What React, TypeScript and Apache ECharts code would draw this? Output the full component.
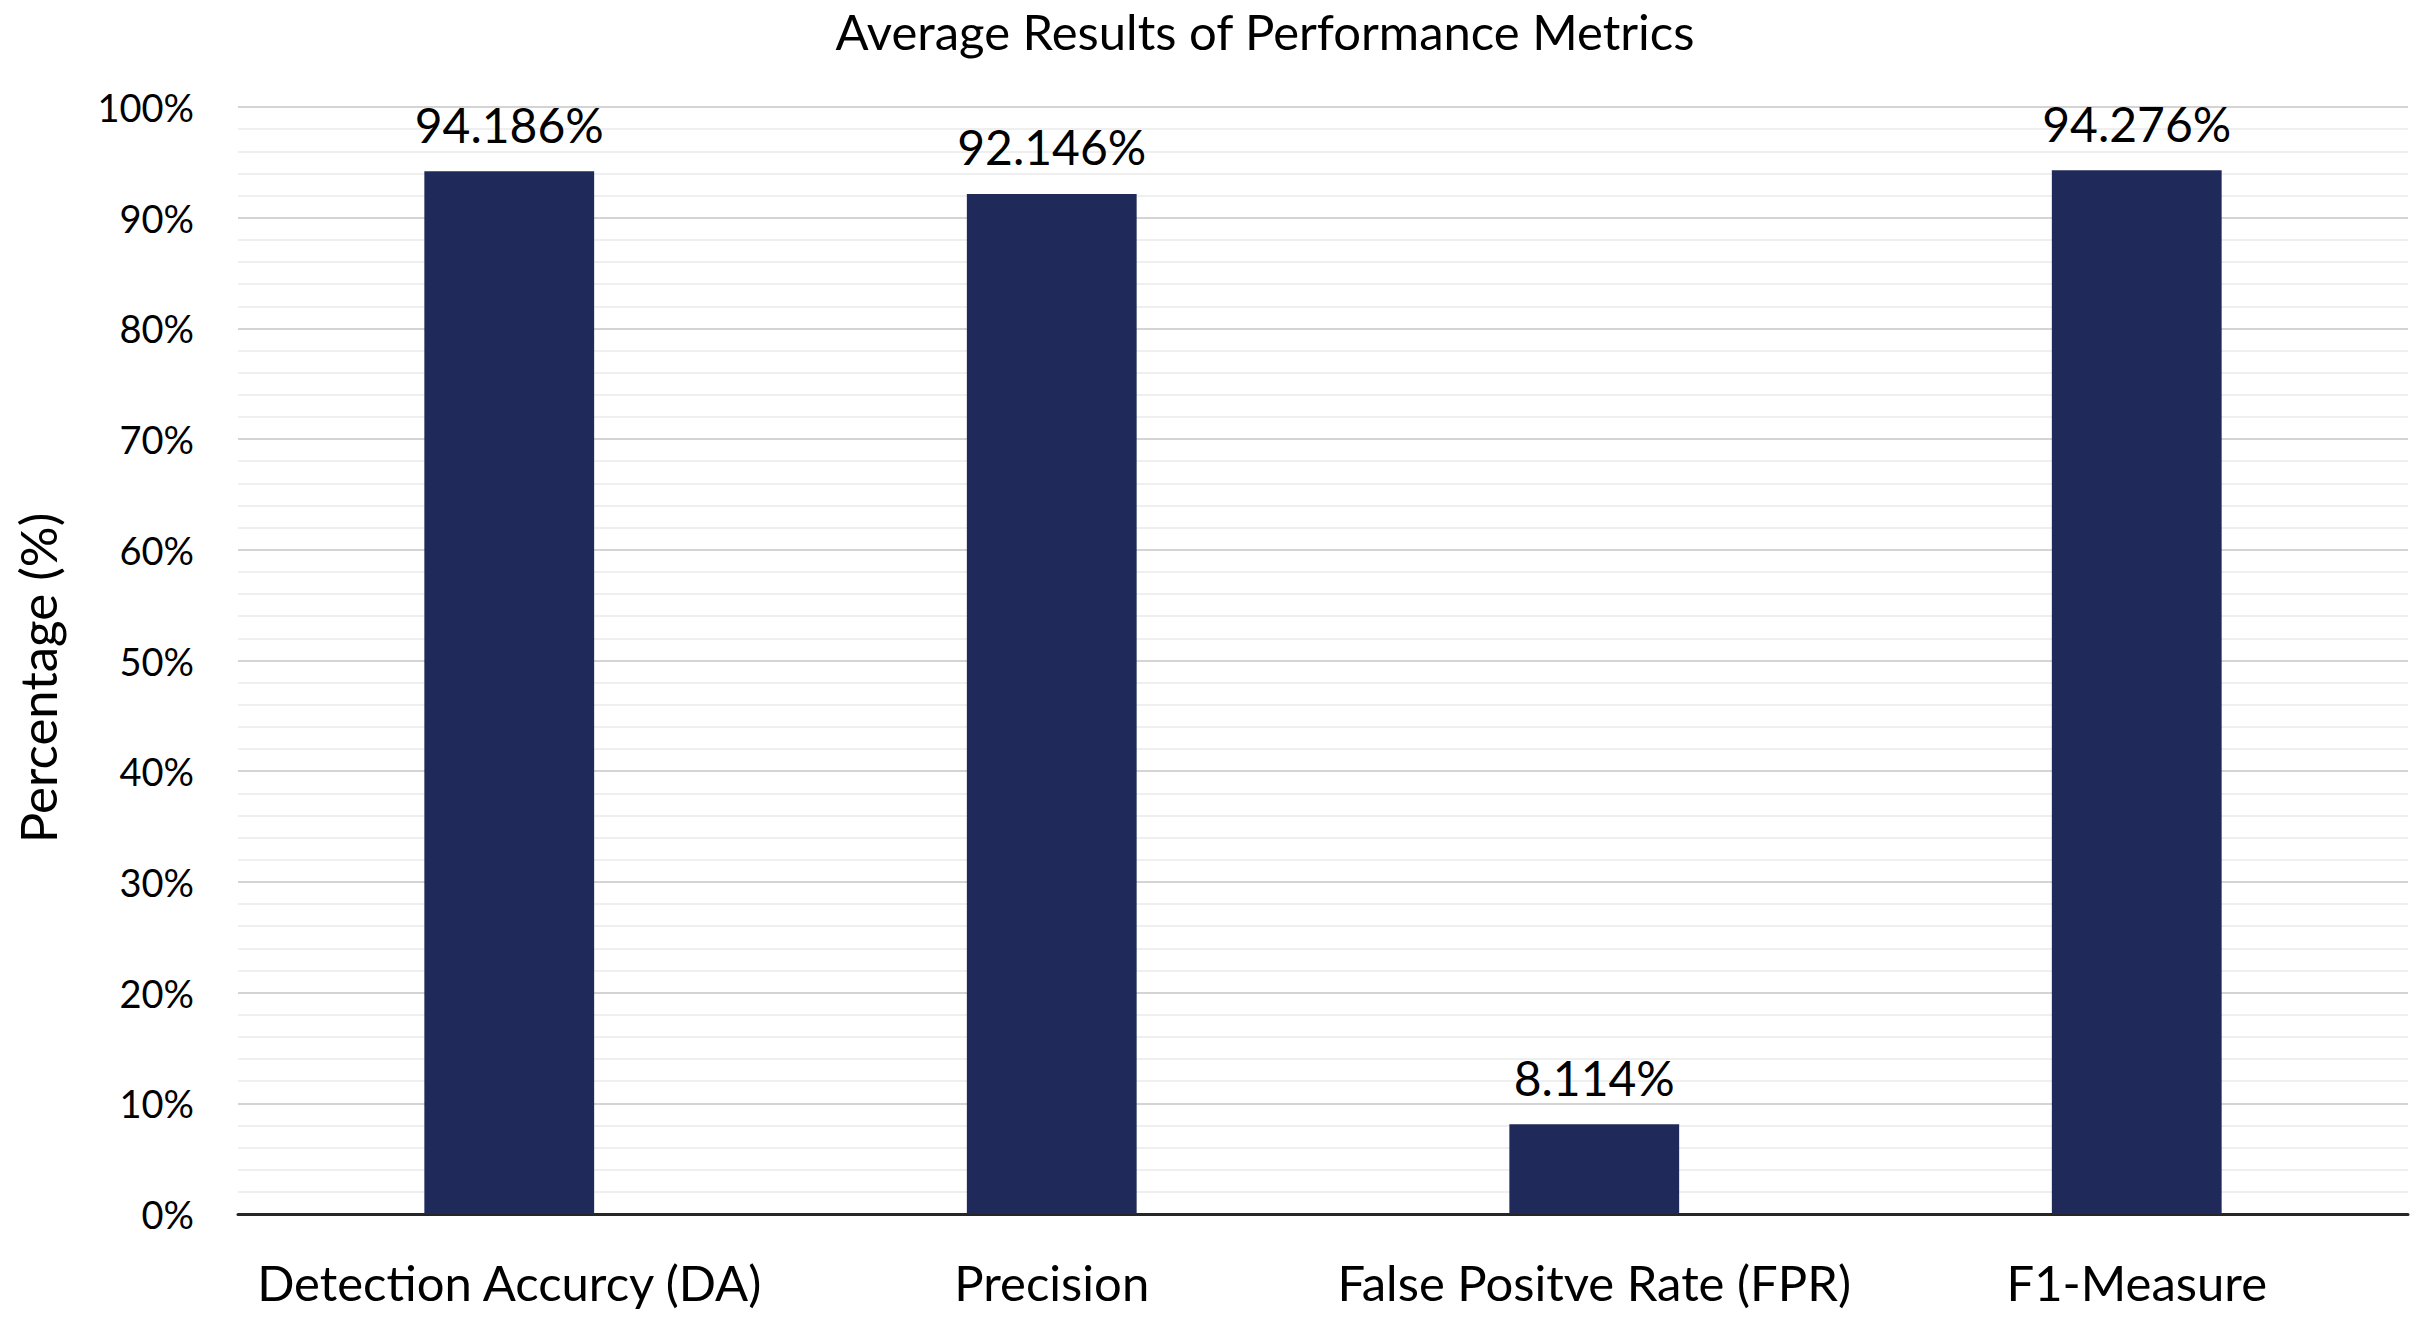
import React, { useEffect, useRef } from "react";
import * as echarts from "echarts";

const categories = ["Detection Accurcy (DA)", "Precision", "False Positve Rate (FPR)", "F1-Measure"];
const values = [94.186, 92.146, 8.114, 94.276];
const chartTitle = "Average Results of Performance Metrics";
const yAxisTitle = "Percentage (%)";

const FONT = "Lato, 'Noto Sans', sans-serif";

export default function App() {
  const ref = useRef<HTMLDivElement>(null);
  useEffect(() => {
    document.body.style.margin = "0";
    const chart = echarts.init(ref.current!, null, { renderer: "svg" });
    chart.setOption({
      animation: false,
      backgroundColor: "#ffffff",
      grid: { left: 238, right: 21, top: 107, bottom: 109, containLabel: false },
      graphic: [
        {
          type: "text",
          x: 1265,
          y: 31,
          style: {
            text: chartTitle,
            fill: "#000",
            font: `49px ${FONT}`,
            textAlign: "center",
            textVerticalAlign: "middle",
          },
        },
        {
          type: "text",
          x: 37,
          y: 678,
          rotation: Math.PI / 2,
          style: {
            text: yAxisTitle,
            fill: "#000",
            font: `51px ${FONT}`,
            textAlign: "center",
            textVerticalAlign: "middle",
          },
        },
      ],
      xAxis: {
        type: "category",
        data: categories,
        axisLine: { show: true, lineStyle: { color: "#262626", width: 3 } },
        axisTick: { show: false },
        axisLabel: { color: "#000", fontFamily: FONT, fontSize: 49, margin: 43, interval: 0 },
        splitLine: { show: false },
      },
      yAxis: {
        type: "value",
        min: 0,
        max: 100,
        interval: 10,
        axisLine: { show: false },
        axisTick: { show: false },
        axisLabel: { color: "#000", fontFamily: FONT, fontSize: 38, margin: 44, formatter: "{value}%" },
        splitLine: { show: true, lineStyle: { color: "#d4d4d4", width: 2 } },
        minorTick: { show: false, splitNumber: 5 },
        minorSplitLine: { show: true, lineStyle: { color: "#efefef", width: 2 } },
      },
      series: [
        {
          type: "bar",
          data: values,
          barWidth: "31.3%",
          itemStyle: { color: "#202A5A" },
          label: {
            show: true,
            position: "top",
            distance: 23,
            color: "#000",
            fontFamily: FONT,
            fontSize: 48,
            formatter: (p: any) => Number(p.value).toFixed(3) + "%",
          },
        },
      ],
    });
    return () => chart.dispose();
  }, []);
  return <div ref={ref} style={{ width: 2429, height: 1323 }} />;
}
